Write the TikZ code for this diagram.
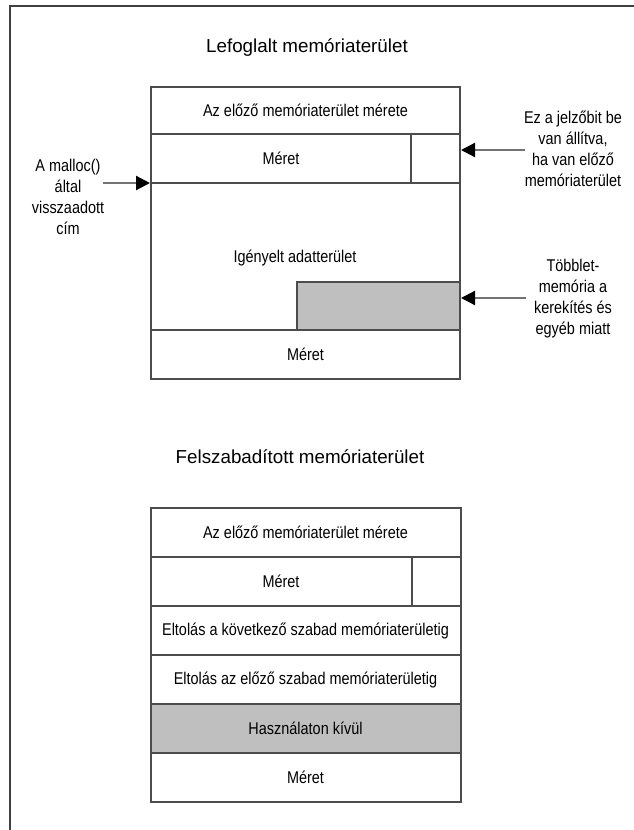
\documentclass[tikz,border=0pt]{standalone}
\usepackage{fontspec}
\setmainfont{Liberation Sans}
\newfontfamily\narrowfont[FakeStretch=0.85]{Liberation Sans}
\usetikzlibrary{arrows.meta}

\begin{document}
\begin{tikzpicture}[x=1pt,y=-1pt,
    frameline/.style={draw=black!75,line width=1.6pt},
    cell/.style={draw=black!70,line width=2pt,inner sep=0pt,
        font=\narrowfont\fontsize{17}{20}\selectfont},
    spare/.style={cell,fill=black!25},
    flagcell/.style={cell,minimum width=49pt,minimum height=49pt},
    note/.style={align=center,font=\narrowfont\fontsize{17}{21}\selectfont},
    heading/.style={font=\fontsize{18.8}{22}\selectfont},
    ptr/.style={draw=black!55,line width=2.2pt,-{Triangle[length=14pt,width=14pt,color=black]}}
]
    \useasboundingbox (0,0) rectangle (634,830);
    \draw[frameline] (634,6) -- (10,6) -- (10,830);

    % allocated chunk
    \node[heading] (alloctitle) at (307,48) {Lefoglalt memóriaterület};
    \node[cell,minimum width=309pt,minimum height=47pt] (aprev) at (305.5,110.5) {Az előző memóriaterület mérete};
    \node[cell,minimum width=260pt,minimum height=49pt] (asize) at (281,158.5) {Méret};
    \node[flagcell] (aflag) at (435.5,158.5) {};
    \node[cell,minimum width=309pt,minimum height=147pt] (adata) at (305.5,256.5) {};
    \node[cell,draw=none] (adatatxt) at (295,258) {Igényelt adatterület};
    \node[spare,minimum width=163pt,minimum height=48pt] (aspare) at (378.5,306) {};
    \node[cell,minimum width=309pt,minimum height=49pt] (aend) at (305.5,354.5) {Méret};

    \node[note] (rettxt) at (68,197) {A malloc()\\által\\visszaadott\\cím};
    \node[note] (flagtxt) at (573,149) {Ez a jelzőbit be\\van állítva,\\ha van előző\\memóriaterület};
    \node[note] (sparetxt) at (573,299) {Többlet-\\memória a\\kerekítés és\\egyéb miatt};

    \coordinate (rettail) at (103,183);
    \coordinate (flagtail) at (525,150);
    \coordinate (sparetail) at (526,298);
    \draw[ptr] (rettail) -- (rettail -| adata.west);
    \draw[ptr] (flagtail) -- (flagtail -| aflag.east);
    \draw[ptr] (sparetail) -- (sparetail -| aspare.east);

    % freed chunk
    \node[heading] (freetitle) at (300,457) {Felszabadított memóriaterület};
    \node[cell,minimum width=310pt,minimum height=49pt] (fprev) at (305.5,532.5) {Az előző memóriaterület mérete};
    \node[cell,minimum width=261pt,minimum height=49pt] (fsize) at (281,581.5) {Méret};
    \node[flagcell] (fflag) at (436,581.5) {};
    \node[cell,minimum width=310pt,minimum height=49pt] (fnext) at (305.5,630.5) {Eltolás a következő szabad memóriaterületig};
    \node[cell,minimum width=310pt,minimum height=49pt] (fback) at (305.5,679.5) {Eltolás az előző szabad memóriaterületig};
    \node[spare,minimum width=310pt,minimum height=49pt] (funused) at (305.5,728.5) {Használaton kívül};
    \node[cell,minimum width=310pt,minimum height=49pt] (fend) at (305.5,777.5) {Méret};
\end{tikzpicture}
\end{document}
